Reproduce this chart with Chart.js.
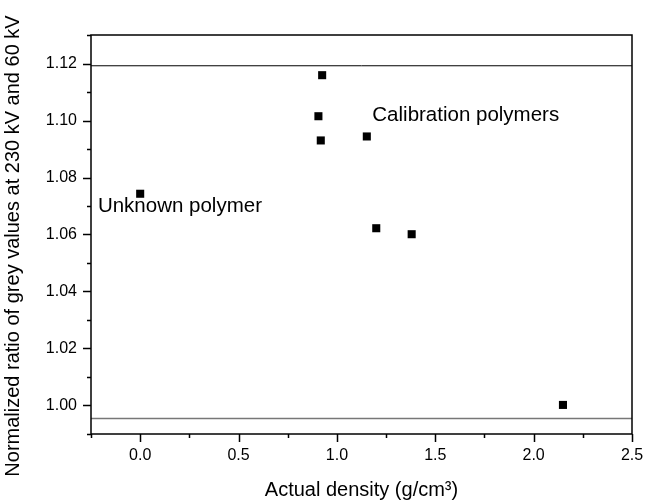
<!DOCTYPE html>
<html>
<head>
<meta charset="utf-8">
<script src="https://cdn.jsdelivr.net/npm/chart.js@4/dist/chart.umd.min.js"></script>
<style>
  body { margin: 0; background: #fff; }
  #wrap { width: 657px; height: 503px; }
</style>
</head>
<body>
<div id="wrap"><canvas id="density"></canvas></div>
<script>
// measured points (density g/cm3, normalized grey value ratio)
var densities = [0.0, 0.925, 0.906, 0.918, 1.152, 1.200, 1.380, 2.149];
var ratios = [1.0743, 1.1159, 1.1015, 1.0930, 1.0944, 1.0622, 1.0601, 1.0002];

// limits shown as horizontal lines
var upperLimit = 1.1192;
var lowerLimit = 0.9954;

// axis ranges
var xRange = [-0.25, 2.5];
var yRange = [0.99, 1.13];

// text annotations, placed in data coordinates
var notes = [
    { text: "Unknown polymer", x: -0.215, y: 1.0698 },
    { text: "Calibration polymers", x: 1.18, y: 1.1019 }
];

var yTitle = 'Normalized ratio of grey values at 230 kV and 60 kV';
var fontName = "'Liberation Sans', Arial, sans-serif";

// draws the frame, the tick marks (major and minor), the notes and the y title
var framePlugin = {
    id: 'frame',
    afterDraw: function(chart) {
        var ctx = chart.ctx;
        var a = chart.chartArea;
        var xs = chart.scales.x, ys = chart.scales.y;
        ctx.save();
        ctx.strokeStyle = '#000';
        ctx.lineWidth = 1.5;
        ctx.strokeRect(a.left, a.top, a.right - a.left, a.bottom - a.top);

        ctx.beginPath();
        xs.ticks.forEach(function(t) {
            var px = Math.round(xs.getPixelForValue(t.value)) + 0.5;
            var len = Math.round(t.value * 4) % 2 === 0 ? 8 : 4;
            ctx.moveTo(px, a.bottom);
            ctx.lineTo(px, a.bottom + len);
        });
        ys.ticks.forEach(function(t) {
            var py = Math.round(ys.getPixelForValue(t.value)) + 0.5;
            var len = Math.round(t.value * 100) % 2 === 0 ? 8 : 4;
            ctx.moveTo(a.left, py);
            ctx.lineTo(a.left - len, py);
        });
        ctx.stroke();

        ctx.fillStyle = '#000';
        ctx.font = '20.5px ' + fontName;
        ctx.textBaseline = 'middle';
        notes.forEach(function(n) {
            ctx.fillText(n.text, xs.getPixelForValue(n.x), ys.getPixelForValue(n.y));
        });

        // y axis title, a bit below the plot centre like the original
        ctx.font = '20px ' + fontName;
        ctx.translate(13, 246);
        ctx.rotate(-Math.PI / 2);
        ctx.textAlign = 'center';
        ctx.fillText(yTitle, 0, 0);
        ctx.restore();
    }
};

var ctx = document.getElementById('density').getContext('2d');
var chart = new Chart(ctx, {
    type: 'scatter',
    data: {
        datasets: [{
            label: 'Polymers',
            data: densities.map(function(d, i) { return { x: d, y: ratios[i] }; }),
            pointStyle: 'rect',
            pointRadius: 5.7,
            pointHoverRadius: 5.7,
            borderWidth: 0,
            backgroundColor: '#000',
            borderColor: '#000'
        }, {
            label: 'Upper',
            type: 'line',
            data: [{ x: xRange[0], y: upperLimit }, { x: xRange[1], y: upperLimit }],
            borderColor: '#000',
            borderWidth: 1,
            pointRadius: 0
        }, {
            label: 'Lower',
            type: 'line',
            data: [{ x: xRange[0], y: lowerLimit }, { x: xRange[1], y: lowerLimit }],
            borderColor: '#777',
            borderWidth: 1.5,
            pointRadius: 0
        }]
    },
    options: {
        responsive: true,
        maintainAspectRatio: false,
        animation: false,
        events: [],
        layout: { padding: { left: 0, right: 25, top: 35, bottom: 0 } },
        plugins: { legend: { display: false }, tooltip: { enabled: false } },
        scales: {
            x: {
                type: 'linear',
                min: xRange[0],
                max: xRange[1],
                afterFit: function(s) { s.height = 69; },
                grid: { display: false, drawTicks: false },
                border: { display: false },
                ticks: {
                    stepSize: 0.25,
                    padding: 12,
                    color: '#000',
                    font: { family: fontName, size: 16 },
                    maxRotation: 0,
                    autoSkip: false,
                    callback: function(v) { return Math.round(v * 4) % 2 === 0 ? v.toFixed(1) : ''; }
                },
                title: {
                    display: true,
                    text: 'Actual density (g/cm³)',
                    color: '#000',
                    font: { family: fontName, size: 20 },
                    padding: { top: 0, bottom: 1 }
                }
            },
            y: {
                type: 'linear',
                min: yRange[0],
                max: yRange[1],
                afterFit: function(s) { s.width = 91; },
                grid: { display: false, drawTicks: false },
                border: { display: false },
                ticks: {
                    stepSize: 0.01,
                    padding: 14,
                    color: '#000',
                    font: { family: fontName, size: 16 },
                    autoSkip: false,
                    callback: function(v) { return Math.round(v * 100) % 2 === 0 ? v.toFixed(2) : ''; }
                }
            }
        }
    },
    plugins: [framePlugin]
});
</script>
</body>
</html>
